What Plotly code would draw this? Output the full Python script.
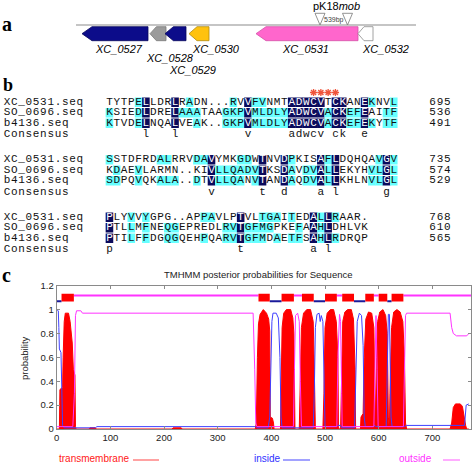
import plotly.graph_objects as go

W, H = 472, 464

# ---------------- panel a : gene map ----------------
gene_names = ["XC_0527", "XC_0528", "XC_0529", "XC_0530", "XC_0531", "XC_0532"]
gene_left = [82, 150, 165, 189, 256, 358]      # map units, genes on minus strand (tip at left)
gene_right = [148, 166, 186, 209, 358, 373]
gene_fill = ["#0c0c8a", "#9b9b9b", "#0c0c8a", "#ffc20e", "#ff66cc", "#ffffff"]
gene_edge = ["#06065a", "#7a7a7a", "#06065a", "#b08a10", "#d452a8", "#8a8a8a"]
insert_sites = [320.0, 347.5]
insert_size = "539bp"
plasmid = "pK18<i>mob</i>"

# ---------------- panel b : alignment ----------------
seq_names = ["XC_0531.seq", "SO_0696.seq", "b4136.seq"]
cons_name = "Consensus"
block1_seq = ["TYTPELLDRLRADN...RVVFVNMTADWCVTCKANEKNVL",
              "KSIEDLDRELAAATAAGKPVMLDLYADWCVACKEFEAITF",
              "KTVDELNQALVEAK..GKPVMLDLYADWCVACKEFEKYTF"]
block1_hl = ["....CN...N.C.....C.NCC...NNNNN.NN..NC..C",
             "C...CN...NCCC...CCCNCCCCCNNNNNCNNCCN..CC",
             "C...CN...N..C...CCCNCCCCCNNNNNCNNCCNC.CC"]
block1_cons = "     l   l         v     adwcv ck  e    "
block1_end = [695, 536, 491]
block2_seq = ["SSTDFRDALRRVDAVYMKGDWTNVDPKISAFLDQHQAVGV",
              "KDAEVLARMN..KIVLLQADVTKSDAVDVALLEKYHVLGL",
              "SDPQVQKALA..DTVLLQANVTANDAQDVALLKHLNVLGL"]
block2_hl = ["C......CC...CCN...CC.N..NC...NCN.....CNC",
             ".C..C.........NCCCCCCN..NC.CCNCN....CCNC",
             "CC..C..CCC..C.NCCCC.CN..NC.CCNCN....CCNC"]
block2_cons = "              v      t  d    a l      g "
block2_end = [735, 574, 529]
block3_seq = ["PLYVVYGPG..APPAVLPTVLTGAITEDALLRAAR.",
              "PTLLMFNEQGEPREDLRVTGFMGPKEFAAHLDHLVK",
              "PTILFFDGQGQEHPQARVTGFMDAETFSAHLRDRQP"]
block3_hl = ["N..C.C.......CC...N..CCC.C..NCNC....",
             "N..C.C..CC......CCNCCCC...C.NCN.....",
             "N..C.C..CC...C..CCNCCC.C.CC.NCNC...."]
block3_cons = "p                 t         a l     "
block3_end = [768, 610, 565]
active_site_cols = [28, 29, 30, 31]   # red asterisks above block 1

# ---------------- panel c : TMHMM posterior probabilities ----------------
tm_pos = [0, 5, 6, 11, 12, 14, 16, 22, 25, 29, 31, 34, 35, 36,
          60, 62, 72, 74, 215, 217, 232, 234,
          370, 372, 374, 376, 379, 385, 391, 395, 397, 398, 402, 404, 405,
          417, 418, 420, 423, 428, 436, 440, 442, 443, 444,
          452, 454, 456, 460, 466, 473, 478, 480, 481, 482,
          496, 498, 500, 504, 510, 516, 521, 524, 525, 526,
          529, 531, 533, 537, 542, 549, 553, 556, 557,
          566, 567, 571, 573, 576, 581, 587, 591, 593, 594,
          596, 598, 602, 608, 613, 616, 618, 620,
          621, 624, 628, 634, 640, 645, 648, 650, 652,
          733, 736, 739, 743, 752, 756, 759, 762, 764, 768]
tm_prob = [0, 0, 0.33, 0.35, 0.6, 0.9, 0.97, 0.97, 0.9, 0.72, 0.5, 0.45, 0.02, 0,
           0, 0.01, 0.01, 0, 0, 0.01, 0.01, 0,
           0, 0.05, 0.6, 0.88, 0.96, 1.0, 0.97, 0.92, 0.82, 0.1, 0.09, 0.05, 0,
           0, 0.3, 0.85, 0.97, 1.0, 1.0, 0.93, 0.8, 0.1, 0,
           0, 0.4, 0.85, 0.97, 1.0, 1.0, 0.9, 0.5, 0.02, 0,
           0, 0.3, 0.85, 0.97, 1.0, 1.0, 0.9, 0.6, 0.02, 0,
           0, 0.5, 0.9, 0.98, 1.0, 1.0, 0.92, 0.5, 0,
           0, 0.1, 0.13, 0.6, 0.92, 0.98, 0.97, 0.85, 0.3, 0.05,
           0.6, 0.9, 0.98, 1.0, 0.95, 0.8, 0.1, 0,
           0.3, 0.85, 0.98, 1.0, 0.98, 0.9, 0.6, 0.05, 0,
           0, 0.05, 0.18, 0.21, 0.21, 0.19, 0.1, 0.03, 0, 0]

in_pos = [0, 3, 4, 5, 8, 9, 11, 14, 36, 72, 75, 370, 373, 394, 397, 399, 401, 403, 409, 413, 416, 418, 420,
          455, 478, 480, 482, 485, 489, 491, 493, 496, 498, 500, 522, 524, 529, 531,
          555, 557, 560, 564, 568, 571, 573, 575, 590, 592, 595, 614, 616, 618, 620, 621, 623, 625,
          648, 652, 736, 760, 763, 768]
in_prob = [1.0, 0.99, 0.85, 0.67, 0.64, 0.4, 0.03, 0.01, 0.01, 0.01, 0.02, 0.02, 0.01, 0.01, 0.1, 0.6, 0.9, 0.97, 0.97, 0.93, 0.6, 0.1, 0.01,
           0.01, 0.01, 0.3, 0.85, 0.96, 0.97, 0.9, 0.95, 0.9, 0.4, 0.02, 0.02, 0.03, 0.03, 0.01,
           0.01, 0.4, 0.9, 0.97, 0.95, 0.7, 0.1, 0.02, 0.02, 0.03, 0.02, 0.02, 0.5, 0.96, 0.96, 0.65, 0.1, 0.02,
           0.02, 0.03, 0.03, 0.03, 0.2, 0.21]

out_pos = [0, 30, 33, 35, 37, 45, 48, 366, 369, 371, 373, 441, 443, 445, 449, 452, 454, 456,
           522, 524, 527, 529, 531, 532, 591, 593, 595, 597, 599, 646, 648, 650, 652,
           733, 736, 739, 745, 764, 768]
out_prob = [0.02, 0.02, 0.3, 0.95, 0.99, 0.99, 0.97, 0.97, 0.5, 0.05, 0.02, 0.02, 0.5, 0.95, 0.97, 0.9, 0.4, 0.02,
            0.02, 0.6, 0.96, 0.9, 0.3, 0.02, 0.02, 0.6, 0.95, 0.5, 0.02, 0.02, 0.5, 0.95, 0.97,
            0.97, 0.85, 0.8, 0.78, 0.78, 0.8]

helix_start = [9, 376, 419, 457, 500, 532, 575, 600, 624]
helix_end = [32, 397, 442, 479, 522, 554, 591, 616, 646]
inside_seg = [(0, 9), (397, 419), (479, 500), (554, 575), (616, 624)]
outside_seg = [(32, 376), (442, 457), (522, 532), (591, 600), (646, 772)]
x_ticks = [0, 100, 200, 300, 400, 500, 600, 700]

# ================= layout constants (pixels) =================
SANS = "Liberation Sans, Arial, sans-serif"
SERIF = "Liberation Serif, Times New Roman, serif"
MONO = "Liberation Mono, Courier New, monospace"
PX = dict(xref="x2", yref="y2")

shapes, annotations = [], []
fig = go.Figure()

# panel letters
for letter, (lx, ly, fs) in zip("abc", [(7, 24, 20), (8, 84.5, 18), (6, 275, 20)]):
    annotations.append(dict(x=lx, y=ly, text="<b>%s</b>" % letter, showarrow=False,
                            font=dict(family=SERIF, size=fs, color="#000"), **PX))

# ---- panel a drawing
MAP_Y, A_TOP, A_BOT = 25, 26.7, 40.7
shapes.append(dict(type="line", x0=76, x1=416, y0=MAP_Y, y1=MAP_Y, layer="below",
                   line=dict(color="#8c8c8c", width=1.2), **PX))
yc = (A_TOP + A_BOT) / 2
for l, r, fc, ec in zip(gene_left, gene_right, gene_fill, gene_edge):
    hd = min(10, max(6, 0.4 * (r - l)))
    path = f"M {l},{yc} L {l+hd},{A_TOP} L {r},{A_TOP} L {r},{A_BOT} L {l+hd},{A_BOT} Z"
    shapes.append(dict(type="path", path=path, fillcolor=fc, line=dict(color=ec, width=0.8), **PX))
label_xy = [(119, 49), (170, 57.5), (192.5, 69.5), (216, 49), (305, 49), (385.5, 49)]
for name, (lx, ly) in zip(gene_names, label_xy):
    annotations.append(dict(x=lx, y=ly, text="<i>%s</i>" % name, showarrow=False,
                            font=dict(family=SANS, size=11, color="#000"), **PX))
for sx in insert_sites:
    shapes.append(dict(type="path", path=f"M {sx-5},13.3 L {sx+5},13.3 L {sx},25 Z",
                       fillcolor="#ffffff", line=dict(color="#777", width=0.8), **PX))
annotations.append(dict(x=sum(insert_sites) / 2, y=19.5, text=insert_size, showarrow=False,
                        font=dict(family=SANS, size=7, color="#444"), **PX))
annotations.append(dict(x=336, y=5.5, text=plasmid, showarrow=False,
                        font=dict(family=SANS, size=11, color="#000"), **PX))

# ---- panel b drawing
ALN_X0, PITCH, NAME_X0, NUM_X0 = 105.8, 7.29, 3.3, 429
TOP0, STEP, ROW_H = 97, 57.5, 10.5
NAVY, CYAN = "#0b0b5c", "#66ffff"
tx, ty, tt, tc = [], [], [], []

def put_text(x0, yv, s, color):
    for i, ch in enumerate(s):
        if ch != " ":
            tx.append(x0 + (i + 0.5) * PITCH); ty.append(yv); tt.append(ch); tc.append(color)

blocks = [(block1_seq, block1_hl, block1_cons, block1_end),
          (block2_seq, block2_hl, block2_cons, block2_end),
          (block3_seq, block3_hl, block3_cons, block3_end)]
for b, (seqs, hls, cons, ends) in enumerate(blocks):
    top = TOP0 + b * STEP
    for r in range(3):
        yrow = top + r * ROW_H + 5.2
        put_text(NAME_X0, yrow, seq_names[r], "#111")
        for i, (ch, h) in enumerate(zip(seqs[r], hls[r])):
            xl = ALN_X0 + i * PITCH
            if h in "NC":
                shapes.append(dict(type="rect", x0=xl - 0.15, x1=xl + PITCH + 0.15,
                                   y0=top + r * ROW_H + 0.5, y1=top + (r + 1) * ROW_H - 0.5,
                                   fillcolor=NAVY if h == "N" else CYAN, line=dict(width=0),
                                   layer="below", **PX))
            tx.append(xl + PITCH / 2); ty.append(yrow); tt.append(ch)
            tc.append("#ffffff" if h == "N" else "#111")
        put_text(NUM_X0, yrow, str(ends[r]), "#111")
    ycons = top + 37.5
    put_text(NAME_X0, ycons, cons_name, "#111")
    put_text(ALN_X0, ycons, cons, "#111")

fig.add_trace(go.Scatter(x=tx, y=ty, text=tt, mode="text", textposition="middle center",
                         textfont=dict(family=MONO, size=11, color=tc),
                         xaxis="x2", yaxis="y2", cliponaxis=False, hoverinfo="skip", showlegend=False))
fig.add_trace(go.Scatter(x=[ALN_X0 + (c + 0.5) * PITCH for c in active_site_cols],
                         y=[TOP0 - 4.5] * len(active_site_cols), mode="markers",
                         marker=dict(symbol="asterisk-open", size=6, line=dict(color="#ff1a1a", width=1.3)),
                         xaxis="x2", yaxis="y2", cliponaxis=False, hoverinfo="skip", showlegend=False))

# ---- panel c drawing
fig.add_trace(go.Scatter(x=tm_pos, y=tm_prob, mode="lines", fill="tozeroy", fillcolor="#ff0000",
                         line=dict(color="#ff0000", width=1), showlegend=False, hoverinfo="skip"))
fig.add_trace(go.Scatter(x=in_pos, y=in_prob, mode="lines", line=dict(color="#4040ff", width=1),
                         showlegend=False, hoverinfo="skip"))
fig.add_trace(go.Scatter(x=out_pos, y=out_prob, mode="lines", line=dict(color="#ff33ff", width=1),
                         showlegend=False, hoverinfo="skip"))

def seg_xy(segs, level):
    xs, ys = [], []
    for a, b2 in segs:
        xs += [a, b2, None]; ys += [level, level, None]
    return xs, ys

xi, yi = seg_xy(inside_seg, 1.07)
xo, yo = seg_xy(outside_seg, 1.118)
fig.add_trace(go.Scatter(x=xi, y=yi, mode="lines", line=dict(color="#1a1a9a", width=2),
                         showlegend=False, hoverinfo="skip"))
fig.add_trace(go.Scatter(x=xo, y=yo, mode="lines", line=dict(color="#ff33ff", width=2),
                         showlegend=False, hoverinfo="skip"))
for s, e in zip(helix_start, helix_end):
    shapes.append(dict(type="rect", xref="x", yref="y", x0=s, x1=e, y0=1.067, y1=1.132,
                       fillcolor="#ff0000", line=dict(width=0)))

annotations.append(dict(x=258, y=274, text="TMHMM posterior probabilities for Sequence", showarrow=False,
                        font=dict(family=SANS, size=9.5, color="#222"), **PX))
annotations.append(dict(x=24, y=358, text="probability", textangle=-90, showarrow=False,
                        font=dict(family=SANS, size=9.5, color="#222"), **PX))
legend_items = [("transmembrane", "#ff2020", "#ff7070", 57, 133, 159),
                ("inside", "#3030ff", "#7070ff", 252, 283, 310),
                ("outside", "#ff33ff", "#ff80ff", 397, 443, 460)]
for txt, col, lcol, x_txt, lx0, lx1 in legend_items:
    annotations.append(dict(x=x_txt, y=458.5, text=txt, showarrow=False, xanchor="left",
                            font=dict(family=SANS, size=10, color=col), **PX))
    shapes.append(dict(type="line", x0=lx0, x1=lx1, y0=460, y1=460,
                       line=dict(color=lcol, width=1.3), **PX))

axis_common = dict(showline=True, linecolor="#8a8a8a", linewidth=1, mirror="allticks",
                   ticks="inside", ticklen=3, tickcolor="#8a8a8a", showgrid=False, zeroline=False,
                   tickfont=dict(family=SANS, size=9.5, color="#222"), automargin=False)
fig.update_layout(
    width=W, height=H, margin=dict(l=0, r=0, t=0, b=0),
    paper_bgcolor="#ffffff", plot_bgcolor="rgba(0,0,0,0)",
    xaxis=dict(domain=[56.7 / W, 471 / W], range=[0, 772], tickvals=x_ticks, **axis_common),
    yaxis=dict(domain=[1 - 429 / H, 1 - 285.7 / H], range=[0, 1.2], dtick=0.2, **axis_common),
    xaxis2=dict(domain=[0, 1], range=[0, W], visible=False, anchor="y2"),
    yaxis2=dict(domain=[0, 1], range=[H, 0], visible=False, anchor="x2"),
    shapes=shapes, annotations=annotations, showlegend=False,
)
fig.write_html("out.html", config={"displayModeBar": False},
               post_script="document.body.style.margin='0px';document.body.style.overflow='hidden';")
